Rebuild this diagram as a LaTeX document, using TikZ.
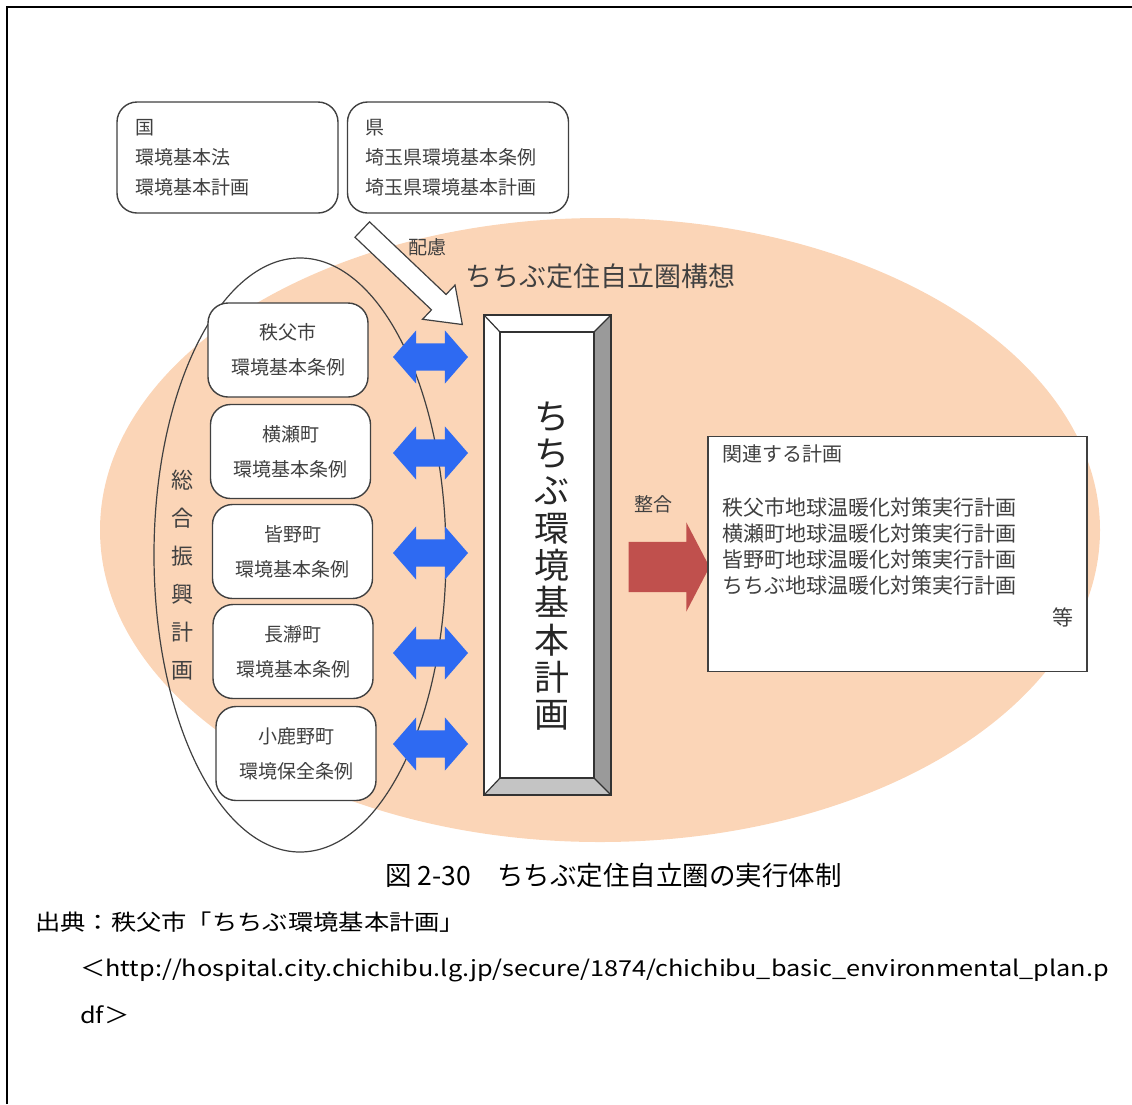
\documentclass[tikz,border=0pt]{standalone}
\usepackage{fontspec}
\setmainfont{Noto Sans CJK JP}
\newfontfamily\widefont[FakeStretch=1.15]{Noto Sans CJK JP}
\usepackage{tikz}
\usetikzlibrary{shapes.arrows}
\definecolor{peach}{HTML}{FBD5B7}
\definecolor{ink}{HTML}{404040}
\definecolor{linkblue}{HTML}{2E6AF2}
\definecolor{fitred}{HTML}{C0504D}
\definecolor{bevelgray}{HTML}{9A9A9A}
\definecolor{bevellight}{HTML}{C4C4C4}
\tikzset{
  lawbox/.style={draw=ink, line width=1.4pt, rounded corners=20pt, fill=white, text=ink, font=\fontsize{19}{30}\selectfont, align=left, text width=185pt, inner xsep=18pt, minimum height=111pt},
  townbox/.style={draw=ink, line width=1.4pt, rounded corners=20pt, fill=white, text=ink, font=\fontsize{19}{35}\selectfont, align=center, minimum width=160pt, minimum height=94pt},
  linkarrow/.style={double arrow, fill=linkblue, inner xsep=0pt, inner ysep=13.5pt, double arrow head extend=13pt, double arrow tip angle=98, minimum height=75pt},
  note/.style={text=ink, font=\fontsize{19}{22}\selectfont, inner sep=0pt},
  plain/.style={inner sep=0pt, anchor=west}
}
\begin{document}
\begin{tikzpicture}[x=1pt,y=-1pt]
\useasboundingbox (0,0) rectangle (1132,1104);
\draw[line width=2.5pt] (7,1104) -- (7,7) -- (1132,7);
\fill[peach] (600,530) ellipse [x radius=500, y radius=312];
\draw[ink, line width=1.2pt] (300,555) ellipse [x radius=146, y radius=297];
\node[text=ink, font=\fontsize{22}{38}\selectfont, align=center] (sogo) at (182,575) {総\\合\\振\\興\\計\\画};
\node[text=ink, font=\fontsize{27}{30}\selectfont] (kouso) at (600,276) {ちちぶ定住自立圏構想};

\node[lawbox] (kuni) at (227.5,157.5) {国\\環境基本法\\環境基本計画};
\node[lawbox] (ken) at (458,157.5) {県\\埼玉県環境基本条例\\埼玉県環境基本計画};
\node[single arrow, draw=ink, fill=white, line width=1.2pt, inner xsep=0pt, inner ysep=10pt, single arrow head extend=13pt, single arrow tip angle=72, minimum height=138pt, rotate=-43.5] (care) at (407,272) {};
\node[note] (carelabel) at (427,247) {配慮};

\node[townbox] (chichibu) at (288,350) {秩父市\\環境基本条例};
\node[townbox] (yokoze) at (290.5,451.5) {横瀬町\\環境基本条例};
\node[townbox] (minano) at (292.5,551.5) {皆野町\\環境基本条例};
\node[townbox] (nagatoro) at (293,651.5) {長瀞町\\環境基本条例};
\node[townbox] (ogano) at (296,753.5) {小鹿野町\\環境保全条例};

\node[linkarrow] (link1) at (430.5,357) {};
\node[linkarrow] (link2) at (430.5,453) {};
\node[linkarrow] (link3) at (430.5,553) {};
\node[linkarrow] (link4) at (430.5,653) {};
\node[linkarrow] (link5) at (430.5,744) {};

\node[minimum width=127pt, minimum height=480pt, inner sep=0pt, outer sep=0pt] (pillar) at (547.5,555) {};
\coordinate (pin-nw) at ([shift={(16,17)}]pillar.north west);
\coordinate (pin-ne) at ([shift={(-17,17)}]pillar.north east);
\coordinate (pin-sw) at ([shift={(16,-17)}]pillar.south west);
\coordinate (pin-se) at ([shift={(-17,-17)}]pillar.south east);
\fill[white] (pillar.north west) rectangle (pillar.south east);
\fill[bevellight] (pillar.south west) -- (pillar.south east) -- (pin-se) -- (pin-sw) -- cycle;
\fill[bevelgray] (pillar.north east) -- (pillar.south east) -- (pin-se) -- (pin-ne) -- cycle;
\draw[black!80, line width=1.2pt] (pillar.north west) rectangle (pillar.south east);
\draw[black!80, line width=1.2pt] (pin-nw) rectangle (pin-se);
\draw[black!80, line width=1.2pt] (pillar.north west) -- (pin-nw) (pillar.north east) -- (pin-ne) (pillar.south west) -- (pin-sw) (pillar.south east) -- (pin-se);
\node[text=black!85, font=\fontsize{35}{37.3}\selectfont, align=center] (plan) at (552,566) {ち\\ち\\ぶ\\環\\境\\基\\本\\計\\画};

\node[note] (fitlabel) at (653,504) {整合};
\node[single arrow, fill=fitred, inner xsep=0pt, inner ysep=25pt, single arrow head extend=19.5pt, single arrow tip angle=125, minimum height=81pt] (fit) at (662.5,567) {};

\node[draw=ink, line width=1.2pt, fill=white, minimum width=379pt, minimum height=235pt] (related) at (897.5,554) {};
\node[plain, text=ink, font=\fontsize{20}{24}\selectfont] (reltitle) at (722,454) {関連する計画};
\node[plain, text=ink, font=\fontsize{21}{25.7}\selectfont, align=left] (rellist) at (722,546.5) {秩父市地球温暖化対策実行計画\\横瀬町地球温暖化対策実行計画\\皆野町地球温暖化対策実行計画\\ちちぶ地球温暖化対策実行計画};
\node[inner sep=0pt, text=ink, font=\fontsize{21}{25}\selectfont] (etc) at (1063,617) {等};

\node[plain, font=\fontsize{26.5}{30}\selectfont] (caption) at (385,875) {図\ 2-30　ちちぶ定住自立圏の実行体制};
\node[plain, font=\widefont\fontsize{22}{26}\selectfont] (source) at (35,922) {出典：秩父市「ちちぶ環境基本計画」};
\node[plain, font=\widefont\fontsize{22}{26}\selectfont] (url) at (80,970) {＜http://hospital.city.chichibu.lg.jp/secure/1874/chichibu\_basic\_environmental\_plan.p};
\node[plain, font=\widefont\fontsize{22}{26}\selectfont] (urltail) at (80,1015) {df＞};
\end{tikzpicture}
\end{document}
